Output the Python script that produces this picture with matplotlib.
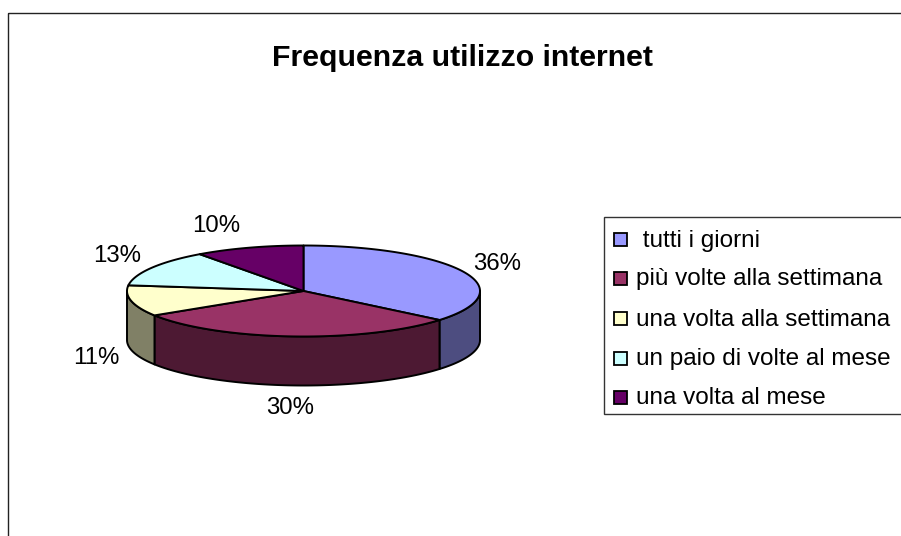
import numpy as np
import matplotlib
matplotlib.use('Agg')
import matplotlib.pyplot as plt
from matplotlib.patches import Polygon, Rectangle

plt.rcParams['font.family'] = ['Liberation Sans', 'DejaVu Sans']

# Chart data
title = 'Frequenza utilizzo internet'
categories = [' tutti i giorni', 'più volte alla settimana', 'una volta alla settimana',
              'un paio di volte al mese', 'una volta al mese']
values = [36, 30, 11, 13, 10]
colors = ['#9999FF', '#993366', '#FFFFCC', '#CCFFFF', '#660066']
side_colors = ['#4D4D80', '#4D1933', '#808066', '#668080', '#330033']

# Pie geometry in pixels
cx, cy = 303.5, 291
rx, ry = 176.5, 45.5
depth = 49
label_pos = [(497, 263.5), (290, 407.5), (96, 358.5), (117, 255.5), (216, 225.5)]
legend_y = [239, 278, 318, 358, 397]

# Points along the ellipse, angle measured clockwise from 12 o'clock
def rim(a, b, dy=0):
    t = np.linspace(a, b, 100)
    return np.column_stack((cx + rx*np.sin(t), cy - ry*np.cos(t) + dy))

fig = plt.figure(figsize=(9.01, 5.36), dpi=100)
ax = fig.add_axes([0, 0, 1, 1])
ax.set_xlim(0, 901)
ax.set_ylim(536, 0)
ax.axis('off')

# Chart frame, runs off the right and bottom of the picture
ax.add_patch(Rectangle((7.5, 12.5), 1000, 1000, fill=False, edgecolor='#222222', linewidth=1.0))

edges = 2*np.pi*np.cumsum([0] + values)/sum(values)

# Side walls, only the front half of the pie shows
for i in range(len(values)):
    a = max(edges[i], np.pi/2)
    b = min(edges[i+1], 3*np.pi/2)
    if a >= b:
        continue
    wall = np.vstack((rim(a, b), rim(a, b, depth)[::-1]))
    ax.add_patch(Polygon(wall, closed=True, facecolor=side_colors[i], edgecolor='black',
                         linewidth=1.4, joinstyle='round'))

# Top face
for i in range(len(values)):
    face = np.vstack(([[cx, cy]], rim(edges[i], edges[i+1])))
    ax.add_patch(Polygon(face, closed=True, facecolor=colors[i], edgecolor='black',
                         linewidth=1.4, joinstyle='round'))

# Percent labels
for v, (x, y) in zip(values, label_pos):
    ax.text(x, y, f'{v}%', fontsize=17.3, color='black', ha='center', va='center')

ax.text(462, 57.5, title, fontsize=21.8, fontweight='bold', ha='center', va='center')

# Legend, drawn by hand because the box runs off the right edge
ax.add_patch(Rectangle((604, 217), 400, 197, facecolor='white', edgecolor='#333333', linewidth=1.0))
for name, c, y in zip(categories, colors, legend_y):
    ax.add_patch(Rectangle((614, y-6), 12.5, 12.5, facecolor=c, edgecolor='black', linewidth=1.3))
    ax.text(636, y + 1.5, name, fontsize=17.45, ha='left', va='center')

fig.savefig('out.png', dpi=100)
